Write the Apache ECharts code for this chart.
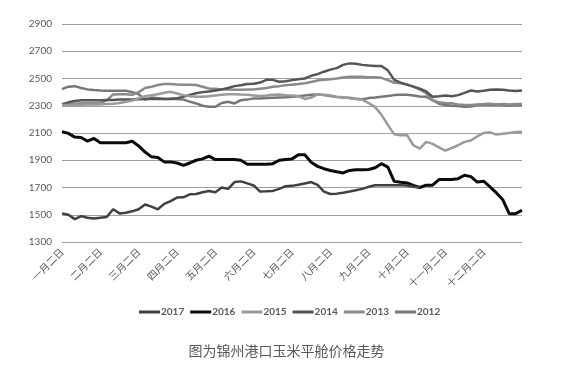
<!DOCTYPE html>
<html>
<head>
<meta charset="utf-8">
<script src="https://cdn.jsdelivr.net/npm/echarts@6/dist/echarts.min.js"></script>
<style>
html,body{margin:0;padding:0;background:#fff;}
#chart{width:573px;height:365px;}
</style>
</head>
<body>
<div id="chart"></div>
<script>
// ---- data ----
const monthNames = ['一月','二月','三月','四月','五月','六月','七月','八月','九月','十月','十一月','十二月'];
const dayNames = ['二日','七日','十二日','十七日','二十二日','二十七日'];
const categories = [];
monthNames.forEach(m => dayNames.forEach(d => categories.push(m + d)));
categories.push('十二月三十一日');

const yTicks = [1300, 1500, 1700, 1900, 2100, 2300, 2500, 2700, 2900];
const seriesNames = ['2017', '2016', '2015', '2014', '2013', '2012'];

const v2017 = [1510,1500,1468,1490,1478,1472,1478,1484,1540,1510,1515,1525,1540,1575,1560,1540,1580,1600,1626,1628,1650,1652,1665,1675,1665,1700,1690,1740,1745,1730,1715,1670,1672,1675,1690,1710,1712,1720,1730,1740,1720,1670,1652,1655,1662,1670,1680,1690,1705,1717,1717,1717,1717,1717,1715,1705,1700,null,null,null,null,null,null,null,null,null,null,null,null,null,null,null,null];
const v2016 = [2110,2097,2070,2067,2040,2060,2028,2028,2028,2028,2028,2040,2005,1960,1925,1920,1888,1888,1880,1862,1880,1900,1910,1930,1905,1905,1905,1905,1900,1871,1871,1871,1871,1875,1900,1905,1910,1940,1940,1885,1855,1838,1825,1815,1807,1825,1830,1830,1832,1845,1875,1850,1745,1738,1733,1715,1700,1717,1717,1758,1758,1758,1765,1790,1780,1740,1746,1705,1660,1610,1508,1508,1533];
const v2015 = [2305,2305,2305,2308,2310,2310,2310,2312,2315,2320,2330,2338,2355,2370,2378,2385,2395,2402,2390,2378,2370,2366,2366,2370,2375,2380,2385,2385,2382,2380,2376,2372,2375,2380,2383,2378,2375,2371,2350,2360,2383,2380,2375,2366,2362,2355,2350,2345,2320,2290,2235,2160,2090,2084,2084,2010,1985,2035,2020,1995,1970,1990,2010,2035,2045,2075,2100,2105,2088,2095,2100,2108,2109];
const v2014 = [2310,2325,2335,2340,2340,2340,2340,2342,2342,2345,2345,2345,2348,2350,2350,2350,2350,2352,2355,2365,2380,2392,2400,2405,2412,2420,2430,2444,2450,2459,2462,2470,2490,2490,2476,2480,2488,2495,2500,2520,2532,2550,2565,2576,2600,2611,2608,2600,2595,2591,2591,2560,2490,2470,2455,2440,2425,2405,2366,2370,2375,2370,2378,2395,2412,2405,2410,2418,2420,2418,2412,2408,2412];
const v2013 = [2312,2312,2315,2318,2318,2320,2320,2340,2383,2385,2385,2380,2400,2430,2440,2452,2459,2459,2456,2455,2455,2452,2440,2427,2425,2420,2420,2418,2418,2420,2420,2425,2430,2440,2444,2450,2455,2459,2465,2475,2485,2490,2495,2500,2508,2513,2513,2512,2510,2510,2505,2488,2469,2465,2455,2440,2420,2393,2340,2325,2320,2318,2310,2305,2305,2310,2312,2315,2310,2312,2310,2312,2312];
const v2012 = [2422,2440,2444,2430,2420,2415,2412,2410,2410,2410,2410,2400,2385,2345,2360,2355,2350,2350,2350,2345,2330,2317,2300,2292,2292,2320,2329,2317,2341,2345,2354,2354,2356,2358,2360,2362,2366,2370,2375,2380,2383,2378,2372,2365,2361,2358,2352,2348,2356,2360,2366,2372,2378,2380,2380,2375,2368,2366,2341,2315,2305,2300,2298,2292,2295,2305,2310,2305,2310,2305,2300,2305,2305];

const seriesValues = [v2017, v2016, v2015, v2014, v2013, v2012];
const seriesColors = ['#404040', '#0a0a0a', '#9a9a9a', '#555555', '#8a8a8a', '#767676'];
const seriesWidths = [2.5, 3, 2.5, 2.5, 2.5, 2.5];
const titleText = '图为锦州港口玉米平舱价格走势';

// ---- chart ----
const chart = echarts.init(document.getElementById('chart'), null, {renderer: 'canvas'});
const option = {
  animation: false,
  backgroundColor: '#ffffff',
  title: {
    text: titleText,
    left: 'center',
    top: 339,
    textStyle: {fontFamily: 'Noto Sans CJK SC', fontSize: 14, fontWeight: 'normal', color: '#595959'}
  },
  legend: {
    data: seriesNames,
    left: 134,
    top: 302,
    icon: 'rect',
    itemWidth: 21,
    itemHeight: 3,
    itemGap: 6,
    textStyle: {fontFamily: 'Lato', fontSize: 10, fontWeight: 'bold', color: '#595959', padding: [0,0,0,-4]}
  },
  grid: {left: 62, right: 51, top: 24, bottom: 123, containLabel: false},
  xAxis: {
    type: 'category',
    data: categories,
    boundaryGap: false,
    axisLine: {show: false},
    axisTick: {show: false},
    axisLabel: {
      rotate: 45,
      margin: 8,
      interval: (idx) => idx % 6 === 0 && idx < 72,
      fontFamily: 'Noto Sans CJK SC',
      fontSize: 10,
      color: '#595959'
    },
    splitLine: {show: false}
  },
  yAxis: {
    type: 'value',
    min: yTicks[0],
    max: yTicks[yTicks.length - 1],
    interval: 200,
    axisLine: {show: false},
    axisTick: {show: false},
    axisLabel: {margin: 10, fontFamily: 'Lato', fontSize: 10, color: '#595959', formatter: (v) => String(v)},
    splitLine: {show: true, lineStyle: {color: '#a0a0a0', width: 1.2}}
  },
  series: seriesNames.map((name, i) => ({
    name: name,
    type: 'line',
    data: seriesValues[i],
    symbol: 'none',
    showSymbol: false,
    connectNulls: false,
    color: seriesColors[i],
    itemStyle: {color: seriesColors[i]},
    lineStyle: {color: seriesColors[i], width: seriesWidths[i]},
    z: 10 - i
  }))
};
chart.setOption(option);
</script>
</body>
</html>
